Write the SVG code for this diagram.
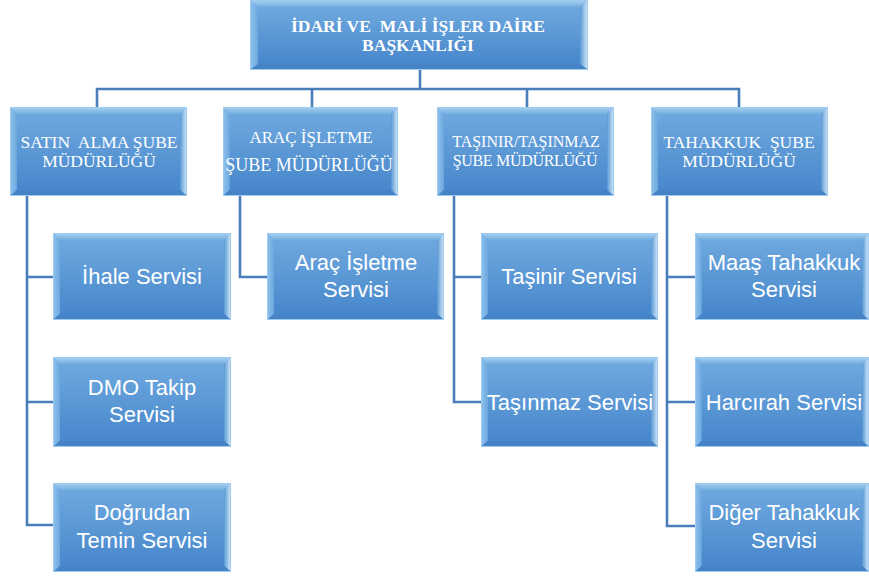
<svg xmlns="http://www.w3.org/2000/svg" xmlns:xlink="http://www.w3.org/1999/xlink" width="869" height="576" viewBox="0 0 869 576">
<style>
.conn{fill:none;stroke:#4a7ebb;stroke-width:2.6;stroke-linejoin:miter}
.t1{font-family:"Liberation Serif","Times New Roman",serif;fill:#fff;text-anchor:middle}
.t2{font-family:"Liberation Sans",Arial,sans-serif;font-size:22px;fill:#fff;text-anchor:middle}
</style>
<defs>
<linearGradient id="face" x1="0" y1="0" x2="0" y2="1">
<stop offset="0" stop-color="#6ea8df"/><stop offset="1" stop-color="#4787cb"/>
</linearGradient>
<linearGradient id="topF" x1="0" y1="0" x2="0" y2="1">
<stop offset="0" stop-color="#a9d2f3"/><stop offset="1" stop-color="#74addf"/>
</linearGradient>
<linearGradient id="leftF" x1="0" y1="0" x2="1" y2="0">
<stop offset="0" stop-color="#8fc3ee"/><stop offset="1" stop-color="#6ca7de"/>
</linearGradient>
<linearGradient id="rightF" x1="0" y1="0" x2="1" y2="0">
<stop offset="0" stop-color="#5a98d4"/><stop offset="1" stop-color="#d6ebfb"/>
</linearGradient>
<symbol id="bevel" viewBox="0 0 178 88" preserveAspectRatio="none">
<rect x="0" y="0" width="178" height="88" fill="url(#face)"/>
<polygon points="0,0 178,0 171,7 7,7" fill="url(#topF)"/>
<polygon points="0,0 7,7 7,82 0,88" fill="url(#leftF)"/>
<polygon points="178,0 178,88 171,82 171,7" fill="url(#rightF)"/>
<polygon points="0,88 7,82 171,82 178,88" fill="#4683c6"/>
<rect x="7" y="7" width="164" height="75" fill="url(#face)"/>
<rect x="0.5" y="0.5" width="177" height="87" fill="none" stroke="#9fcbef" stroke-width="1"/>
</symbol>
</defs>

<g id="connectors">
<path class="conn" d="M420,70 V89 M97,107 V89 H739 V107 M312,89 V107 M527,89 V107"/>
<path class="conn" d="M27,196 V525 H53 M27,277 H53 M27,402 H53"/>
<path class="conn" d="M240,196 V277 H267"/>
<path class="conn" d="M454,196 V402 H481 M454,277 H481"/>
<path class="conn" d="M667,196 V526 H695 M667,277 H695 M667,402 H695"/>
</g>

<g id="root">
<rect x="250" y="0" width="338" height="70" fill="url(#face)"/>
<polygon points="250,0 588,0 580,7 258,7" fill="url(#topF)"/>
<polygon points="250,0 258,7 258,64 250,70" fill="url(#leftF)"/>
<polygon points="588,0 588,70 580,64 580,7" fill="url(#rightF)"/>
<polygon points="250,70 258,64 580,64 588,70" fill="#4683c6"/>
<rect x="258" y="7" width="322" height="57" fill="url(#face)"/>
<rect x="250.5" y="0.5" width="337" height="69" fill="none" stroke="#9fcbef"/>
<text class="t1" x="418" y="32" font-size="17.5" font-weight="bold" xml:space="preserve">İDARİ VE  MALİ İŞLER DAİRE</text>
<text class="t1" x="418" y="51" font-size="17.5" font-weight="bold">BAŞKANLIĞI</text>
</g>

<g id="satinalma">
<use xlink:href="#bevel" x="10" y="107" width="177" height="89"/>
<text class="t1" x="99" y="148" font-size="17.5" xml:space="preserve">SATIN  ALMA ŞUBE</text>
<text class="t1" x="99" y="167" font-size="17.5">MÜDÜRLÜĞÜ</text>
</g>
<g id="aracisletme">
<use xlink:href="#bevel" x="223" y="107" width="175" height="89"/>
<text class="t1" x="311" y="143" font-size="17">ARAÇ İŞLETME</text>
<text class="t1" x="309" y="171" font-size="18">ŞUBE MÜDÜRLÜĞÜ</text>
</g>
<g id="tasinir">
<use xlink:href="#bevel" x="437" y="107" width="177" height="89"/>
<text class="t1" x="526" y="147" font-size="16">TAŞINIR/TAŞINMAZ</text>
<text class="t1" x="525" y="166" font-size="16" letter-spacing="-0.3">ŞUBE MÜDÜRLÜĞÜ</text>
</g>
<g id="tahakkuk">
<use xlink:href="#bevel" x="651" y="107" width="177" height="89"/>
<text class="t1" x="739" y="148" font-size="17.5" xml:space="preserve">TAHAKKUK  ŞUBE</text>
<text class="t1" x="739" y="167" font-size="17.5">MÜDÜRLÜĞÜ</text>
</g>

<g id="ihale">
<use xlink:href="#bevel" x="53" y="233" width="178" height="87"/>
<text class="t2" x="142" y="284">İhale Servisi</text>
</g>
<g id="dmo">
<use xlink:href="#bevel" x="53" y="357" width="178" height="90"/>
<text class="t2" x="142" y="395">DMO Takip</text>
<text class="t2" x="142" y="422">Servisi</text>
</g>
<g id="dogrudan">
<use xlink:href="#bevel" x="53" y="483" width="178" height="89"/>
<text class="t2" x="142" y="520">Doğrudan</text>
<text class="t2" x="142" y="548">Temin Servisi</text>
</g>
<g id="aracservis">
<use xlink:href="#bevel" x="267" y="233" width="177" height="87"/>
<text class="t2" x="356" y="270">Araç İşletme</text>
<text class="t2" x="356" y="297">Servisi</text>
</g>
<g id="tasinirservis">
<use xlink:href="#bevel" x="481" y="233" width="177" height="87"/>
<text class="t2" x="569" y="284">Taşinir Servisi</text>
</g>
<g id="tasinmazservis">
<use xlink:href="#bevel" x="481" y="357" width="177" height="90"/>
<text class="t2" x="570" y="410">Taşınmaz Servisi</text>
</g>
<g id="maas">
<use xlink:href="#bevel" x="695" y="233" width="174" height="87"/>
<text class="t2" x="784" y="270">Maaş Tahakkuk</text>
<text class="t2" x="784" y="297">Servisi</text>
</g>
<g id="harcirah">
<use xlink:href="#bevel" x="695" y="357" width="174" height="90"/>
<text class="t2" x="784" y="410">Harcırah Servisi</text>
</g>
<g id="diger">
<use xlink:href="#bevel" x="695" y="483" width="174" height="89"/>
<text class="t2" x="784" y="520">Diğer Tahakkuk</text>
<text class="t2" x="784" y="548">Servisi</text>
</g>
</svg>
